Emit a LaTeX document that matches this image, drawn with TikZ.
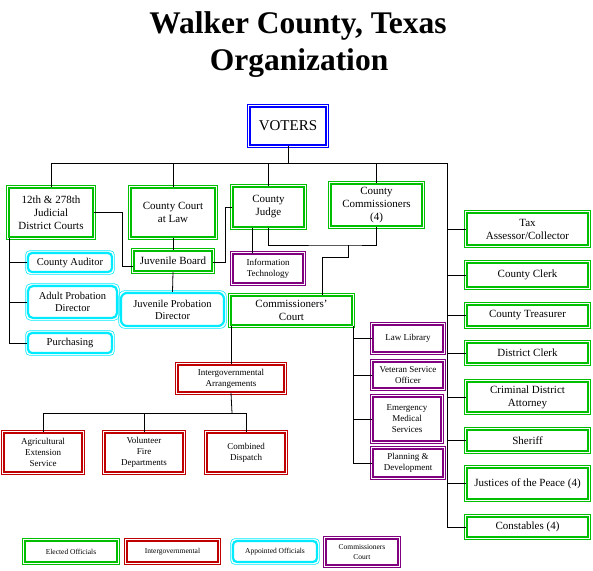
\documentclass[tikz,border=0pt]{standalone}
\usepackage{fontspec}
\setmainfont{Liberation Serif}
\definecolor{elec}{RGB}{0,190,0}
\definecolor{intg}{RGB}{192,0,0}
\definecolor{appt}{RGB}{0,235,255}
\definecolor{comc}{RGB}{128,0,128}
\definecolor{vote}{RGB}{0,0,255}
\newcommand\fmain{\fontsize{11}{13}\selectfont}
\newcommand\fmid{\fontsize{10.5}{12}\selectfont}
\newcommand\fsm{\fontsize{9}{11}\selectfont}
\newcommand\fleg{\fontsize{7.5}{10}\selectfont}
\tikzset{
  bx/.style={line width=2.2pt, inner sep=0pt, align=center, fill=white},
  ln/.style={line width=0.8pt, black},
  thinout/.style={line width=0.6pt}
}
% #1 name, #2 colour, #3 extra options (font, rounding), #4 x1, #5 y1, #6 x2, #7 y2, #8 text
\newcommand\obox[8]{%
  \node[bx, draw=#2, #3, minimum width={#6-#4-2}, minimum height={#7-#5-2}] (#1) at ({(#4+#6)/2},{(#5+#7)/2}) {#8};
  \draw[thinout, draw=#2, #3] ([shift={(-1.2,-1.2)}]#1.north west) rectangle ([shift={(1.2,1.2)}]#1.south east);
}
\begin{document}
\begin{tikzpicture}[x=1pt,y=-1pt]
\useasboundingbox (0,0) rectangle (593,570);
% Title
\node[font=\fontsize{31.5}{34}\selectfont\bfseries, anchor=base] (t1) at (298,33) {Walker County, Texas};
\node[font=\fontsize{31.5}{34}\selectfont\bfseries, anchor=base] (t2) at (299,70) {Organization};

% coordinates for buses
\coordinate (bus) at (288,163);
\coordinate (rbus) at (447,163);

% ---------- boxes ----------
\obox{voters}{vote}{font=\fontsize{15}{17}\selectfont}{249}{106}{327}{146}{VOTERS}
\obox{jdc}{elec}{font=\fmain}{8}{187}{94}{238}{12th \& 278th\\Judicial\\District Courts}
\obox{ccl}{elec}{font=\fmain}{130}{187}{216}{238}{County Court\\at Law}
\obox{judge}{elec}{font=\fmain}{232}{186}{305}{228}{County\\Judge}
\obox{comm}{elec}{font=\fmain}{330}{183}{423}{227}{County\\Commissioners\\(4)}
\obox{jb}{elec}{font=\fmain}{133}{250}{213}{272}{Juvenile Board}
\obox{it}{comc}{font=\fsm}{232}{253}{304}{284}{Information\\Technology}
\obox{cc}{elec}{font=\fmain}{230}{295}{353}{326}{Commissioners'\\Court}
\obox{aud}{appt}{font=\fmid, rounded corners=4pt}{27}{252}{113}{273}{County Auditor}
\obox{apd}{appt}{font=\fmid, rounded corners=5pt}{27}{285}{118}{319}{Adult Probation\\Director}
\obox{pur}{appt}{font=\fmid, rounded corners=4pt}{27}{332}{113}{354}{Purchasing}
\obox{jpd}{appt}{font=\fmid, rounded corners=6pt}{120}{292}{225}{327}{Juvenile Probation\\Director}
\obox{ia}{intg}{font=\fsm}{177}{364}{285}{393}{Intergovernmental\\Arrangements}
\obox{aes}{intg}{font=\fsm}{3}{432}{83}{473}{Agricultural\\Extension\\Service}
\obox{vfd}{intg}{font=\fsm}{104}{432}{184}{473}{Volunteer\\Fire\\Departments}
\obox{cd}{intg}{font=\fsm}{206}{432}{286}{473}{Combined\\Dispatch}
\obox{ll}{comc}{font=\fsm}{372}{324}{444}{353}{Law Library}
\obox{vso}{comc}{font=\fsm}{372}{361}{444}{389}{Veteran Service\\Officer}
\obox{ems}{comc}{font=\fsm}{372}{396}{442}{442}{Emergency\\Medical\\Services}
\obox{pd}{comc}{font=\fsm}{372}{448}{444}{478}{Planning \&\\Development}
\obox{tax}{elec}{font=\fmain}{466}{212}{589}{246}{Tax\\Assessor/Collector}
\obox{clerk}{elec}{font=\fmain}{466}{262}{589}{288}{County Clerk}
\obox{treas}{elec}{font=\fmain}{466}{304}{589}{327}{County Treasurer}
\obox{dclerk}{elec}{font=\fmain}{466}{342}{589}{364}{District Clerk}
\obox{cda}{elec}{font=\fmain}{466}{381}{589}{413}{Criminal District\\Attorney}
\obox{sheriff}{elec}{font=\fmain}{466}{429}{589}{452}{Sheriff}
\obox{jp}{elec}{font=\fmain}{466}{467}{589}{500}{Justices of the Peace (4)}
\obox{const}{elec}{font=\fmain}{466}{516}{589}{538}{Constables (4)}
% legend
\obox{lg1}{elec}{font=\fleg}{24}{540}{118}{563}{Elected Officials}
\obox{lg2}{intg}{font=\fleg}{126}{540}{219}{563}{Intergovernmental}
\obox{lg3}{appt}{font=\fleg, rounded corners=4pt}{232}{540}{318}{563}{Appointed Officials}
\obox{lg4}{comc}{font=\fleg}{325}{538}{399}{566}{Commissioners\\Court}

% ---------- connectors ----------
\begin{scope}[ln]
\draw (voters.south) -- (bus);
\draw (jdc.north |- bus) -- (rbus);
\draw (jdc.north |- bus) -- (jdc.north);
\draw (ccl.north |- bus) -- (ccl.north);
\draw (judge.north |- bus) -- (judge.north);
\draw (comm.north |- bus) -- (comm.north);
% right spine
\draw (rbus) -- (rbus |- const.west);
\foreach \n in {tax,clerk,treas,dclerk,cda,sheriff,jp,const}
  \draw (rbus |- \n.west) -- (\n.west);
% courts to juvenile board
\draw (jdc.east) -- ++(28,0) |- ([yshift=-5pt]jb.west);
\draw (judge.west) -- ++(-7,0) |- ([yshift=-1pt]jb.east);
\draw (ccl.south) -- (jb.north);
\draw (jb.south) -- (jpd.north);
% judge to IT
\draw ([xshift=-16.5pt]judge.south) -- ([xshift=-16.5pt]judge.south |- it.north);
% judge & commissioners to commissioners' court
\coordinate (jn) at (348,245);
\coordinate (j2) at (322,257);
\draw (judge.south) |- (jn) -| (comm.south);
\draw (jn) |- (j2) -- (j2 |- cc.north);
% commissioners' court departments
\draw (cc.south east) -- (cc.south east |- pd.west);
\foreach \n in {ll,vso,ems,pd}
  \draw (cc.south east |- \n.west) -- (\n.west);
% intergovernmental
\draw (ia.north |- cc.south) -- (ia.north);
\coordinate (ib) at (232,413);
\draw (ia.south) -- (ib);
\draw (aes.north |- ib) -- (cd.north |- ib);
\foreach \n in {aes,vfd,cd}
  \draw (\n.north |- ib) -- (\n.north);
% appointed by district courts
\coordinate (lx) at (9,238);
\draw (lx) -- (lx |- pur.west);
\foreach \n in {aud,apd,pur}
  \draw (lx |- \n.west) -- (\n.west);
\end{scope}
\end{tikzpicture}
\end{document}
